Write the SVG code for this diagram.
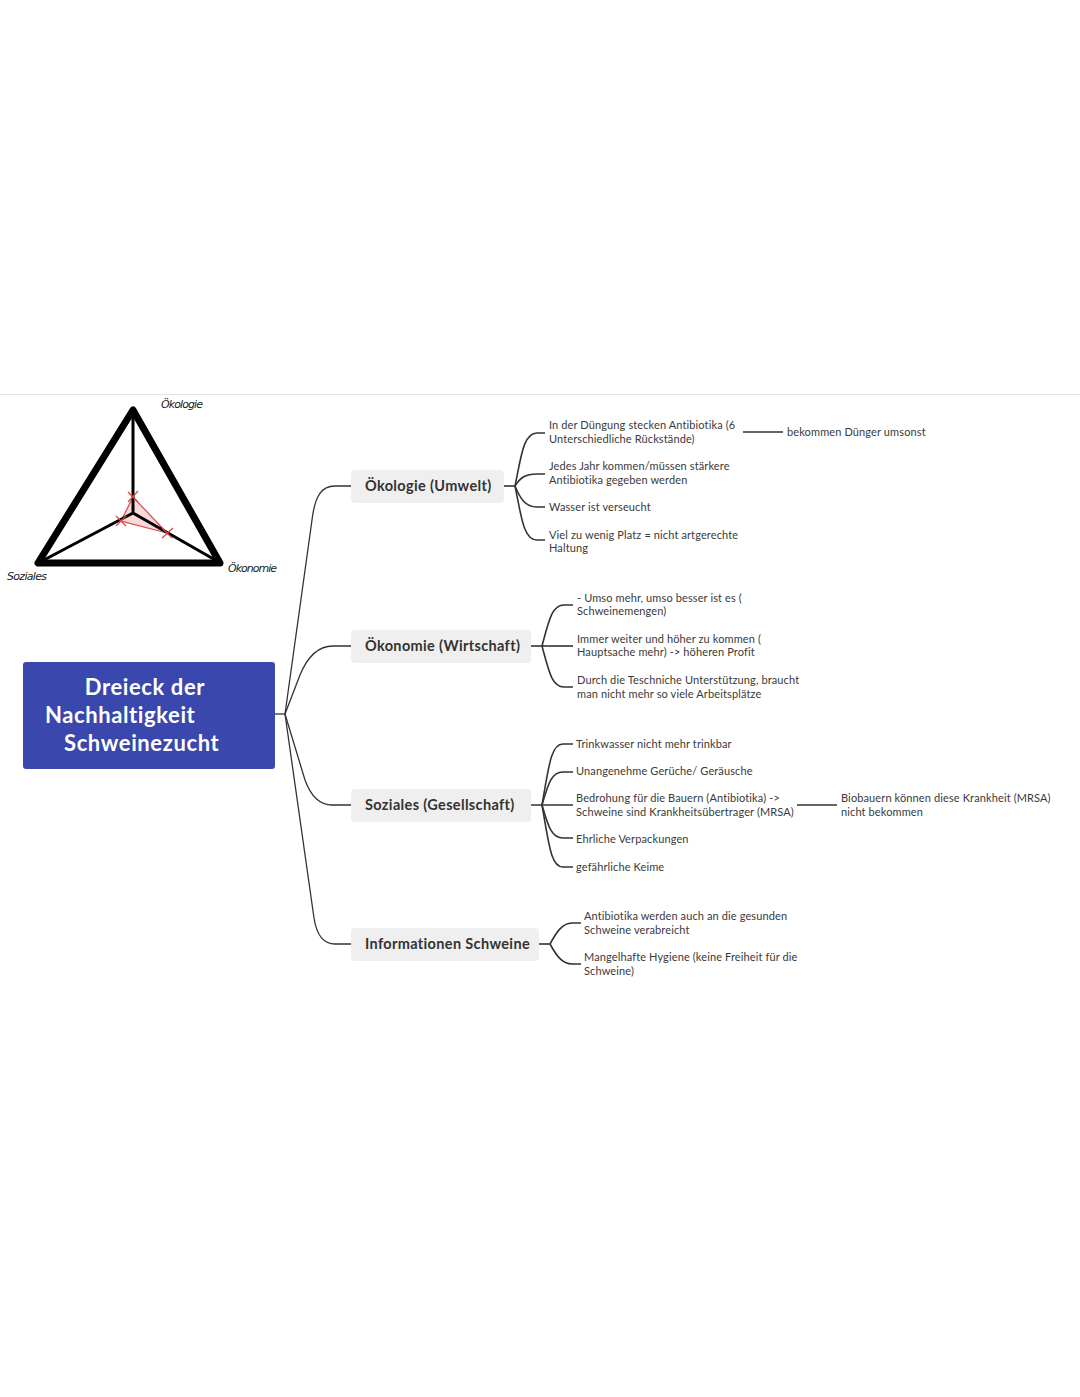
<svg xmlns="http://www.w3.org/2000/svg" width="1080" height="1397" viewBox="0 0 1080 1397">
<style>
.leaf{font-family:Lato,"Open Sans",sans-serif;font-size:11px;letter-spacing:0.12px;fill:#3a3a3a}
.br{font-family:Lato,"Open Sans",sans-serif;font-size:14.5px;letter-spacing:0.35px;font-weight:bold;fill:#333}
.root{font-family:Lato,"Open Sans",sans-serif;font-size:22px;letter-spacing:0.6px;font-weight:bold;fill:#fff}
.hand{font-family:"DejaVu Sans",sans-serif;font-size:11px;fill:#222;font-style:italic}
.c{fill:none;stroke:#333;stroke-width:1.3}
.lc{fill:none;stroke:#333;stroke-width:1.6}
.bn{fill:#efefef}
</style>
<rect width="1080" height="1397" fill="#fff"/>
<line x1="0" y1="394.5" x2="1080" y2="394.5" stroke="#e3e3e3" stroke-width="1"/>

<g id="triangle">
<polygon points="133,410 38,563 220,563" fill="none" stroke="#000" stroke-width="7" stroke-linejoin="round"/>
<polygon points="133,497 121,521 167,533" fill="#f4b6b6" fill-opacity="0.5" stroke="#d84a4a" stroke-width="1.2"/>
<line x1="133" y1="513" x2="133" y2="412" stroke="#000" stroke-width="3"/>
<line x1="133" y1="513" x2="42" y2="561" stroke="#000" stroke-width="3"/>
<line x1="133" y1="513" x2="217" y2="561" stroke="#000" stroke-width="3"/>
<g stroke="#d84a4a" stroke-width="1.2">
<line x1="128" y1="502" x2="138" y2="491"/><line x1="128" y1="492" x2="138" y2="502"/>
<line x1="116" y1="516" x2="126" y2="526"/><line x1="116" y1="526" x2="126" y2="516"/>
<line x1="162" y1="538" x2="173" y2="528"/><line x1="162" y1="528" x2="172" y2="538"/>
</g>
<text class="hand" x="161" y="408" textLength="42">Ökologie</text>
<text class="hand" x="228" y="572" textLength="49">Ökonomie</text>
<text class="hand" x="7" y="580" font-size="9" textLength="40">Soziales</text>
</g>

<g id="connectors">
<path class="c" d="M275 714 H285"/>
<path class="c" d="M285 714 L312 520 C315 495 322 486 335 486 H351"/>
<path class="c" d="M285 714 L300 675 Q312 646 333 646 H351"/>
<path class="c" d="M285 714 L305 780 Q314 805 332 805 H351"/>
<path class="c" d="M285 714 L314 918 Q318 944 335 944 H351"/>

<path class="lc" d="M504 486 H515"/>
<path class="lc" d="M515 486 C521 458 523 433 537 433 H545"/>
<path class="lc" d="M515 486 C520 478 525 474 537 474 H545"/>
<path class="lc" d="M515 486 C520 498 525 507 537 507 H545"/>
<path class="lc" d="M515 486 C521 514 523 540 537 540 H545"/>
<path class="lc" d="M743 432 H783"/>

<path class="lc" d="M531 646 H542"/>
<path class="lc" d="M542 646 C549 620 552 605 564 605 H573"/>
<path class="lc" d="M542 646 H573"/>
<path class="lc" d="M542 646 C549 672 552 687 564 687 H573"/>

<path class="lc" d="M531 805 H573"/>
<path class="lc" d="M542 805 C549 765 551 744 563 744 H573"/>
<path class="lc" d="M542 805 C548 785 551 772 563 772 H573"/>
<path class="lc" d="M542 805 C548 825 551 838 563 838 H573"/>
<path class="lc" d="M542 805 C549 845 551 867 563 867 H573"/>
<path class="lc" d="M797 805 H837"/>

<path class="lc" d="M539 944 H550"/>
<path class="lc" d="M550 944 C556 933 562 923 572 923 H581"/>
<path class="lc" d="M550 944 C556 955 562 964 572 964 H581"/>
</g>

<g id="root">
<rect x="23" y="662" width="252" height="107" rx="3" fill="#3a47ac"/>
<text class="root" x="145" y="695" text-anchor="middle">Dreieck der</text>
<text class="root" x="45" y="723">Nachhaltigkeit</text>
<text class="root" x="64" y="751">Schweinezucht</text>
</g>

<g id="oekologie">
<rect class="bn" x="351" y="470" width="153" height="33" rx="4"/>
<text class="br" x="365" y="491">Ökologie (Umwelt)</text>
</g>
<g id="oekonomie">
<rect class="bn" x="351" y="630" width="180" height="33" rx="4"/>
<text class="br" x="365" y="651">Ökonomie (Wirtschaft)</text>
</g>
<g id="soziales">
<rect class="bn" x="351" y="789" width="180" height="33" rx="4"/>
<text class="br" x="365" y="810">Soziales (Gesellschaft)</text>
</g>
<g id="informationen">
<rect class="bn" x="351" y="928" width="188" height="33" rx="4"/>
<text class="br" x="365" y="949">Informationen Schweine</text>
</g>

<g id="leaf-oek1"><text class="leaf" x="549" y="429">In der Düngung stecken Antibiotika (6</text><text class="leaf" x="549" y="443">Unterschiedliche Rückstände)</text></g>
<g id="leaf-oek1a"><text class="leaf" x="787" y="436">bekommen Dünger umsonst</text></g>
<g id="leaf-oek2"><text class="leaf" x="549" y="470">Jedes Jahr kommen/müssen stärkere</text><text class="leaf" x="549" y="484">Antibiotika gegeben werden</text></g>
<g id="leaf-oek3"><text class="leaf" x="549" y="511">Wasser ist verseucht</text></g>
<g id="leaf-oek4"><text class="leaf" x="549" y="539">Viel zu wenig Platz = nicht artgerechte</text><text class="leaf" x="549" y="552">Haltung</text></g>

<g id="leaf-eco1"><text class="leaf" x="577" y="602">- Umso mehr, umso besser ist es (</text><text class="leaf" x="577" y="615">Schweinemengen)</text></g>
<g id="leaf-eco2"><text class="leaf" x="577" y="643">Immer weiter und höher zu kommen (</text><text class="leaf" x="577" y="656">Hauptsache mehr) -&gt; höheren Profit</text></g>
<g id="leaf-eco3"><text class="leaf" x="577" y="684">Durch die Teschniche Unterstützung, braucht</text><text class="leaf" x="577" y="698">man nicht mehr so viele Arbeitsplätze</text></g>

<g id="leaf-soz1"><text class="leaf" x="576" y="748">Trinkwasser nicht mehr trinkbar</text></g>
<g id="leaf-soz2"><text class="leaf" x="576" y="775">Unangenehme Gerüche/ Geräusche</text></g>
<g id="leaf-soz3"><text class="leaf" x="576" y="802">Bedrohung für die Bauern (Antibiotika) -&gt;</text><text class="leaf" x="576" y="816">Schweine sind Krankheitsübertrager (MRSA)</text></g>
<g id="leaf-soz3a"><text class="leaf" x="841" y="802">Biobauern können diese Krankheit (MRSA)</text><text class="leaf" x="841" y="816">nicht bekommen</text></g>
<g id="leaf-soz4"><text class="leaf" x="576" y="843">Ehrliche Verpackungen</text></g>
<g id="leaf-soz5"><text class="leaf" x="576" y="871">gefährliche Keime</text></g>

<g id="leaf-inf1"><text class="leaf" x="584" y="920">Antibiotika werden auch an die gesunden</text><text class="leaf" x="584" y="934">Schweine verabreicht</text></g>
<g id="leaf-inf2"><text class="leaf" x="584" y="961">Mangelhafte Hygiene (keine Freiheit für die</text><text class="leaf" x="584" y="975">Schweine)</text></g>
</svg>
